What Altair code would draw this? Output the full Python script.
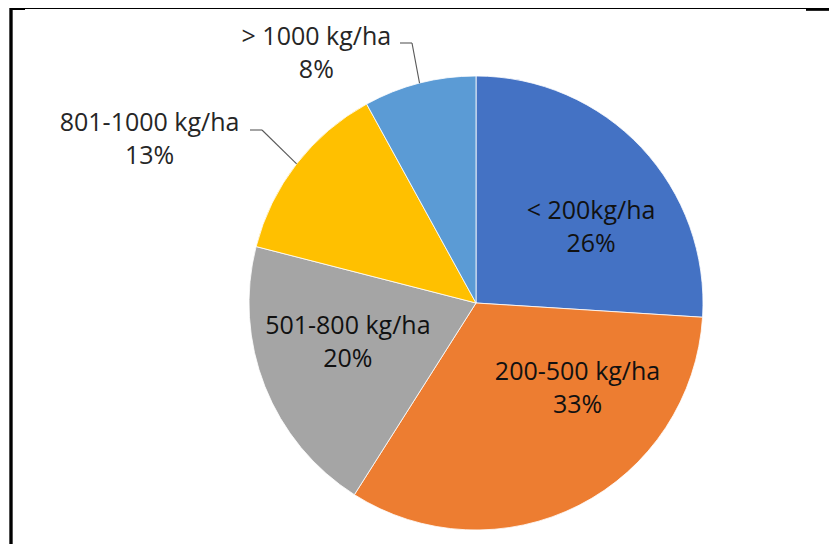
import altair as alt
import pandas as pd
import math

# ---- data ----
categories = ["< 200kg/ha", "200-500 kg/ha", "501-800 kg/ha", "801-1000 kg/ha", "> 1000 kg/ha"]
shares = [26, 33, 20, 13, 8]
colors = ["#4472C4", "#ED7D31", "#A5A5A5", "#FFC000", "#5B9BD5"]

df = pd.DataFrame({"cat": categories, "share": shares, "idx": list(range(len(categories)))})

CX, CY, R = 476, 303, 227
FONT = "Open Sans"
FS = 25
LH = 33

pie = alt.Chart(df).mark_arc(outerRadius=R, stroke="white", strokeWidth=0.8).encode(
    theta=alt.Theta("share:Q", stack=True),
    order=alt.Order("idx:Q"),
    color=alt.Color("cat:N", scale=alt.Scale(domain=categories, range=colors), legend=None),
    x=alt.value(CX),
    y=alt.value(CY),
)

base = (
    alt.Chart(df)
    .transform_window(cum="sum(share)", sort=[alt.SortField("idx")], frame=[None, 0])
    .transform_joinaggregate(total="sum(share)")
    .transform_calculate(
        mid="(datum.cum - datum.share/2) / datum.total * 2 * PI",
        label="datum.cat + '\\n' + datum.share + '%'",
    )
)

theta_enc = alt.Theta("mid:Q", scale=alt.Scale(domain=[0, 2 * math.pi], range=[0, 2 * math.pi]))

# (category, radius, dx, dy, colour)
label_layout = [
    (categories[0], 140, 13, 4, "#111111"),
    (categories[1], 140, 38, -56, "#111111"),
    (categories[2], 140, 2, -29, "#111111"),
    (categories[3], 260, -121, -21, "#262626"),
    (categories[4], 260, -95, -14, "#262626"),
]

texts = []
for cat, rad, dx, dy, col in label_layout:
    texts.append(
        base.transform_filter(alt.datum.cat == cat)
        .mark_text(radius=rad, dx=dx, dy=dy, font=FONT, fontSize=FS, lineBreak="\n",
                   lineHeight=LH, align="center", baseline="middle", color=col)
        .encode(theta=theta_enc, text="label:N", x=alt.value(CX), y=alt.value(CY))
    )

# leader lines for the two outside labels: edge point from the data, elbow beside the label
leaders = []
for cat, y_lab, x_start, x_elbow in [(categories[3], 130, 250, 262), (categories[4], 43, 400, 412)]:
    lb = base.transform_filter(alt.datum.cat == cat).transform_calculate(
        ex=f"{CX} + {R} * sin(datum.mid)",
        ey=f"{CY} - {R} * cos(datum.mid)",
    )
    leaders.append(
        lb.mark_rule(color="#595959", strokeWidth=1.1).encode(
            x=alt.X("ex:Q", scale=None), y=alt.Y("ey:Q", scale=None),
            x2=alt.value(x_elbow), y2=alt.value(y_lab),
        )
    )
    leaders.append(
        lb.mark_rule(color="#595959", strokeWidth=1.1).encode(
            x=alt.value(x_start), x2=alt.value(x_elbow), y=alt.value(y_lab),
        )
    )

# frame of the original figure
frame_top = alt.Chart(df).mark_rule(color="black", strokeWidth=1.2).encode(
    x=alt.value(10), x2=alt.value(829), y=alt.value(8.5))
frame_left = alt.Chart(df).mark_rule(color="black", strokeWidth=2.4).encode(
    x=alt.value(11), y=alt.value(8), y2=alt.value(544))
frame_tl = alt.Chart(df).mark_rule(color="black", strokeWidth=2).encode(
    x=alt.value(10), x2=alt.value(25), y=alt.value(9))
frame_tr = alt.Chart(df).mark_rule(color="black", strokeWidth=2).encode(
    x=alt.value(806), x2=alt.value(829), y=alt.value(9.3))

chart = (
    alt.layer(pie, *leaders, *texts, frame_top, frame_left, frame_tl, frame_tr)
    .resolve_scale(theta="independent")
    .properties(width=829, height=544, padding=0, autosize=alt.AutoSizeParams(type="none"),
                background="white")
    .configure_view(stroke=None)
)

chart.save("out.html", embed_options={"renderer": "svg", "actions": False})
